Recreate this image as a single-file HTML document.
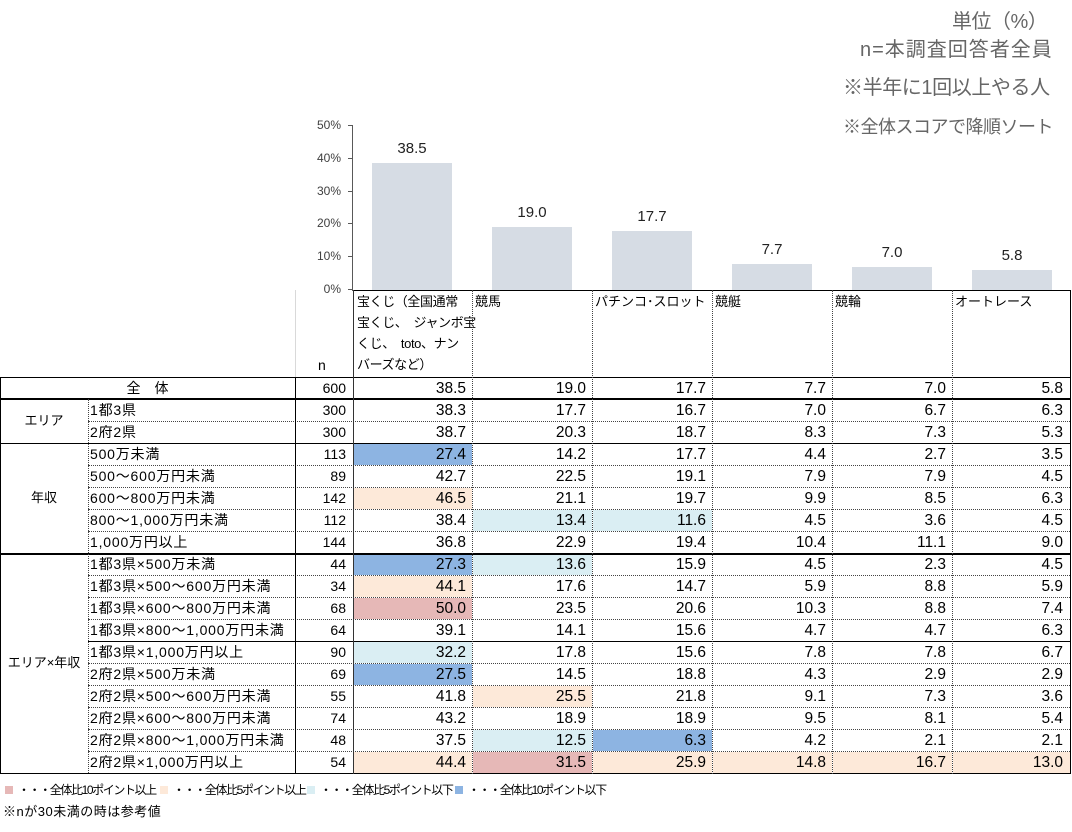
<!DOCTYPE html>
<html><head><meta charset="utf-8">
<style>
*{margin:0;padding:0;box-sizing:border-box}
body{width:1072px;height:832px;background:#fff;position:relative;overflow:hidden;font-family:"Liberation Sans","Noto Sans CJK JP",sans-serif;color:#000}
.a{position:absolute;white-space:nowrap}
.tr{color:#666;line-height:24px}
.yt{position:absolute;left:301px;width:40px;text-align:right;font-size:12px;line-height:16px;color:#404040}
.tk{position:absolute;left:348px;width:4px;height:1px;background:#595959}
.bar{position:absolute;width:80px;background:#d6dce4}
.bl{position:absolute;width:120px;text-align:center;font-size:15px;line-height:15px;color:#222}
.hd{position:absolute;top:291px;font-size:13px;line-height:21px;white-space:nowrap}
.r{position:absolute;left:0;width:1072px;height:22px}
.r span{position:absolute;top:1px;height:21px;line-height:21px;white-space:nowrap}
.lb{left:90px;font-size:14px;letter-spacing:0.8px}
.n{left:296px;width:50px;text-align:right;font-size:14px}
.v{text-align:right;font-size:15.5px;padding-right:6px}
.v1{left:354px;width:118px}
.v2{left:473px;width:119px}
.v3{left:593px;width:119px}
.v4{left:713px;width:119px}
.v5{left:833px;width:119px}
.v6{left:953px;width:117px;padding-right:7px}
.B{background:#8db4e2}
.L{background:#daeef3}
.P{background:#fde9d9}
.R{background:#e6b8b7}
.h{position:absolute;height:1px;background:#000}
.h2{position:absolute;height:2px;background:#000}
.hd1{position:absolute;height:1px;border-top:1px dotted #444}
.vl{position:absolute;width:1px;background:#000}
.vd{position:absolute;width:1px;border-left:1px dotted #444}
.g{position:absolute;left:0;width:88px;text-align:center;font-size:13px;line-height:20px}
.lg{position:absolute;top:786px;width:8px;height:8px}
.lt{position:absolute;top:781px;font-size:12px;line-height:18px;letter-spacing:-1.4px;white-space:nowrap}
</style></head><body>

<div class="a tr" style="left:952px;top:10px;font-size:20px;letter-spacing:-0.5px">単位（%）</div>
<div class="a tr" style="left:860px;top:38px;font-size:20px;letter-spacing:1px">n=本調査回答者全員</div>
<div class="a tr" style="left:843px;top:76px;font-size:20px;letter-spacing:-0.4px">※半年に1回以上やる人</div>
<div class="a tr" style="left:843px;top:115px;font-size:18px;letter-spacing:-0.5px">※全体スコアで降順ソート</div>

<!-- y axis -->
<div class="yt" style="top:117px">50%</div>
<div class="yt" style="top:150px">40%</div>
<div class="yt" style="top:183px">30%</div>
<div class="yt" style="top:215px">20%</div>
<div class="yt" style="top:248px">10%</div>
<div class="yt" style="top:281px">0%</div>
<div class="tk" style="top:125px"></div>
<div class="tk" style="top:158px"></div>
<div class="tk" style="top:191px"></div>
<div class="tk" style="top:223px"></div>
<div class="tk" style="top:256px"></div>
<div class="tk" style="top:289px"></div>
<div class="a" style="left:352px;top:125px;width:1px;height:166px;background:#595959"></div>

<!-- bars -->
<div class="bar" style="left:372px;top:163px;height:127px"></div>
<div class="bar" style="left:492px;top:227px;height:63px"></div>
<div class="bar" style="left:612px;top:231px;height:59px"></div>
<div class="bar" style="left:732px;top:264px;height:26px"></div>
<div class="bar" style="left:852px;top:267px;height:23px"></div>
<div class="bar" style="left:972px;top:270px;height:20px"></div>
<div class="bl" style="left:352px;top:141px">38.5</div>
<div class="bl" style="left:472px;top:205px">19.0</div>
<div class="bl" style="left:592px;top:209px">17.7</div>
<div class="bl" style="left:712px;top:242px">7.7</div>
<div class="bl" style="left:832px;top:245px">7.0</div>
<div class="bl" style="left:952px;top:248px">5.8</div>

<!-- header labels -->
<div class="hd" style="left:357px;letter-spacing:-0.4px">宝くじ（全国通常<br>宝くじ、　ジャンボ宝<br>くじ、　toto、ナン<br>バーズなど）</div>
<div class="hd" style="left:475px">競馬</div>
<div class="hd" style="left:595px">パチンコ･スロット</div>
<div class="hd" style="left:715px">競艇</div>
<div class="hd" style="left:835px">競輪</div>
<div class="hd" style="left:955px">オートレース</div>
<div class="a" style="left:318px;top:356px;font-size:14px;line-height:18px">n</div>

<!-- rows -->
<div class="r" style="top:377px"><span style="left:0;width:295px;text-align:center;font-size:14px">全　体</span><span class="n">600</span><span class="v v1">38.5</span><span class="v v2">19.0</span><span class="v v3">17.7</span><span class="v v4">7.7</span><span class="v v5">7.0</span><span class="v v6">5.8</span></div>
<div class="r" style="top:399px"><span class="lb">1都3県</span><span class="n">300</span><span class="v v1">38.3</span><span class="v v2">17.7</span><span class="v v3">16.7</span><span class="v v4">7.0</span><span class="v v5">6.7</span><span class="v v6">6.3</span></div>
<div class="r" style="top:421px"><span class="lb">2府2県</span><span class="n">300</span><span class="v v1">38.7</span><span class="v v2">20.3</span><span class="v v3">18.7</span><span class="v v4">8.3</span><span class="v v5">7.3</span><span class="v v6">5.3</span></div>
<div class="r" style="top:443px"><span class="lb">500万未満</span><span class="n">113</span><span class="v v1 B">27.4</span><span class="v v2">14.2</span><span class="v v3">17.7</span><span class="v v4">4.4</span><span class="v v5">2.7</span><span class="v v6">3.5</span></div>
<div class="r" style="top:465px"><span class="lb">500～600万円未満</span><span class="n">89</span><span class="v v1">42.7</span><span class="v v2">22.5</span><span class="v v3">19.1</span><span class="v v4">7.9</span><span class="v v5">7.9</span><span class="v v6">4.5</span></div>
<div class="r" style="top:487px"><span class="lb">600～800万円未満</span><span class="n">142</span><span class="v v1 P">46.5</span><span class="v v2">21.1</span><span class="v v3">19.7</span><span class="v v4">9.9</span><span class="v v5">8.5</span><span class="v v6">6.3</span></div>
<div class="r" style="top:509px"><span class="lb">800～1,000万円未満</span><span class="n">112</span><span class="v v1">38.4</span><span class="v v2 L">13.4</span><span class="v v3 L">11.6</span><span class="v v4">4.5</span><span class="v v5">3.6</span><span class="v v6">4.5</span></div>
<div class="r" style="top:531px"><span class="lb">1,000万円以上</span><span class="n">144</span><span class="v v1">36.8</span><span class="v v2">22.9</span><span class="v v3">19.4</span><span class="v v4">10.4</span><span class="v v5">11.1</span><span class="v v6">9.0</span></div>
<div class="r" style="top:553px"><span class="lb">1都3県×500万未満</span><span class="n">44</span><span class="v v1 B">27.3</span><span class="v v2 L">13.6</span><span class="v v3">15.9</span><span class="v v4">4.5</span><span class="v v5">2.3</span><span class="v v6">4.5</span></div>
<div class="r" style="top:575px"><span class="lb">1都3県×500～600万円未満</span><span class="n">34</span><span class="v v1 P">44.1</span><span class="v v2">17.6</span><span class="v v3">14.7</span><span class="v v4">5.9</span><span class="v v5">8.8</span><span class="v v6">5.9</span></div>
<div class="r" style="top:597px"><span class="lb">1都3県×600～800万円未満</span><span class="n">68</span><span class="v v1 R">50.0</span><span class="v v2">23.5</span><span class="v v3">20.6</span><span class="v v4">10.3</span><span class="v v5">8.8</span><span class="v v6">7.4</span></div>
<div class="r" style="top:619px"><span class="lb">1都3県×800～1,000万円未満</span><span class="n">64</span><span class="v v1">39.1</span><span class="v v2">14.1</span><span class="v v3">15.6</span><span class="v v4">4.7</span><span class="v v5">4.7</span><span class="v v6">6.3</span></div>
<div class="r" style="top:641px"><span class="lb">1都3県×1,000万円以上</span><span class="n">90</span><span class="v v1 L">32.2</span><span class="v v2">17.8</span><span class="v v3">15.6</span><span class="v v4">7.8</span><span class="v v5">7.8</span><span class="v v6">6.7</span></div>
<div class="r" style="top:663px"><span class="lb">2府2県×500万未満</span><span class="n">69</span><span class="v v1 B">27.5</span><span class="v v2">14.5</span><span class="v v3">18.8</span><span class="v v4">4.3</span><span class="v v5">2.9</span><span class="v v6">2.9</span></div>
<div class="r" style="top:685px"><span class="lb">2府2県×500～600万円未満</span><span class="n">55</span><span class="v v1">41.8</span><span class="v v2 P">25.5</span><span class="v v3">21.8</span><span class="v v4">9.1</span><span class="v v5">7.3</span><span class="v v6">3.6</span></div>
<div class="r" style="top:707px"><span class="lb">2府2県×600～800万円未満</span><span class="n">74</span><span class="v v1">43.2</span><span class="v v2">18.9</span><span class="v v3">18.9</span><span class="v v4">9.5</span><span class="v v5">8.1</span><span class="v v6">5.4</span></div>
<div class="r" style="top:729px"><span class="lb">2府2県×800～1,000万円未満</span><span class="n">48</span><span class="v v1">37.5</span><span class="v v2 L">12.5</span><span class="v v3 B">6.3</span><span class="v v4">4.2</span><span class="v v5">2.1</span><span class="v v6">2.1</span></div>
<div class="r" style="top:751px"><span class="lb">2府2県×1,000万円以上</span><span class="n">54</span><span class="v v1 P">44.4</span><span class="v v2 R">31.5</span><span class="v v3 P">25.9</span><span class="v v4 P">14.8</span><span class="v v5 P">16.7</span><span class="v v6 P">13.0</span></div>

<!-- group labels -->
<div class="g" style="top:411px">エリア</div>
<div class="g" style="top:488px">年収</div>
<div class="g" style="top:653px">エリア×年収</div>

<!-- horizontal lines -->
<div class="h" style="left:353px;top:290px;width:718px"></div>
<div class="h" style="left:0;top:377px;width:1071px"></div>
<div class="h2" style="left:0;top:398px;width:1071px"></div>
<div class="h" style="left:0;top:443px;width:1071px"></div>
<div class="h2" style="left:0;top:553px;width:1071px"></div>
<div class="h" style="left:88px;top:641px;width:983px"></div>
<div class="h" style="left:0;top:773px;width:1071px"></div>
<div class="hd1" style="left:88px;top:421px;width:982px"></div>
<div class="hd1" style="left:88px;top:465px;width:982px"></div>
<div class="hd1" style="left:88px;top:487px;width:982px"></div>
<div class="hd1" style="left:88px;top:509px;width:982px"></div>
<div class="hd1" style="left:88px;top:531px;width:982px"></div>
<div class="hd1" style="left:88px;top:575px;width:982px"></div>
<div class="hd1" style="left:88px;top:597px;width:982px"></div>
<div class="hd1" style="left:88px;top:619px;width:982px"></div>
<div class="hd1" style="left:88px;top:663px;width:982px"></div>
<div class="hd1" style="left:88px;top:685px;width:982px"></div>
<div class="hd1" style="left:88px;top:707px;width:982px"></div>
<div class="hd1" style="left:88px;top:729px;width:982px"></div>
<div class="hd1" style="left:88px;top:751px;width:982px"></div>

<!-- vertical lines -->
<div class="vl" style="left:0;top:377px;height:397px"></div>
<div class="vd" style="left:88px;top:399px;height:374px"></div>
<div class="a" style="left:295px;top:290px;width:1px;height:87px;background:#d9d9d9"></div>
<div class="vl" style="left:295px;top:377px;height:397px"></div>
<div class="vl" style="left:353px;top:290px;height:484px;background:#333"></div>
<div class="vd" style="left:472px;top:290px;height:484px"></div>
<div class="vd" style="left:592px;top:290px;height:484px"></div>
<div class="vd" style="left:712px;top:290px;height:484px"></div>
<div class="vd" style="left:832px;top:290px;height:484px"></div>
<div class="vd" style="left:952px;top:290px;height:484px"></div>
<div class="vl" style="left:1070px;top:290px;height:484px"></div>

<!-- legend -->
<div class="lg" style="left:5px;background:#e6b8b7"></div>
<div class="lt" style="left:18px">・・・全体比10ポイント以上</div>
<div class="lg" style="left:160px;background:#fde9d9"></div>
<div class="lt" style="left:173px">・・・全体比5ポイント以上</div>
<div class="lg" style="left:307px;background:#daeef3"></div>
<div class="lt" style="left:320px">・・・全体比5ポイント以下</div>
<div class="lg" style="left:455px;background:#8db4e2"></div>
<div class="lt" style="left:468px">・・・全体比10ポイント以下</div>
<div class="a" style="left:3px;top:803px;font-size:13px;line-height:18px;letter-spacing:0.5px">※nが30未満の時は参考値</div>

</body></html>
